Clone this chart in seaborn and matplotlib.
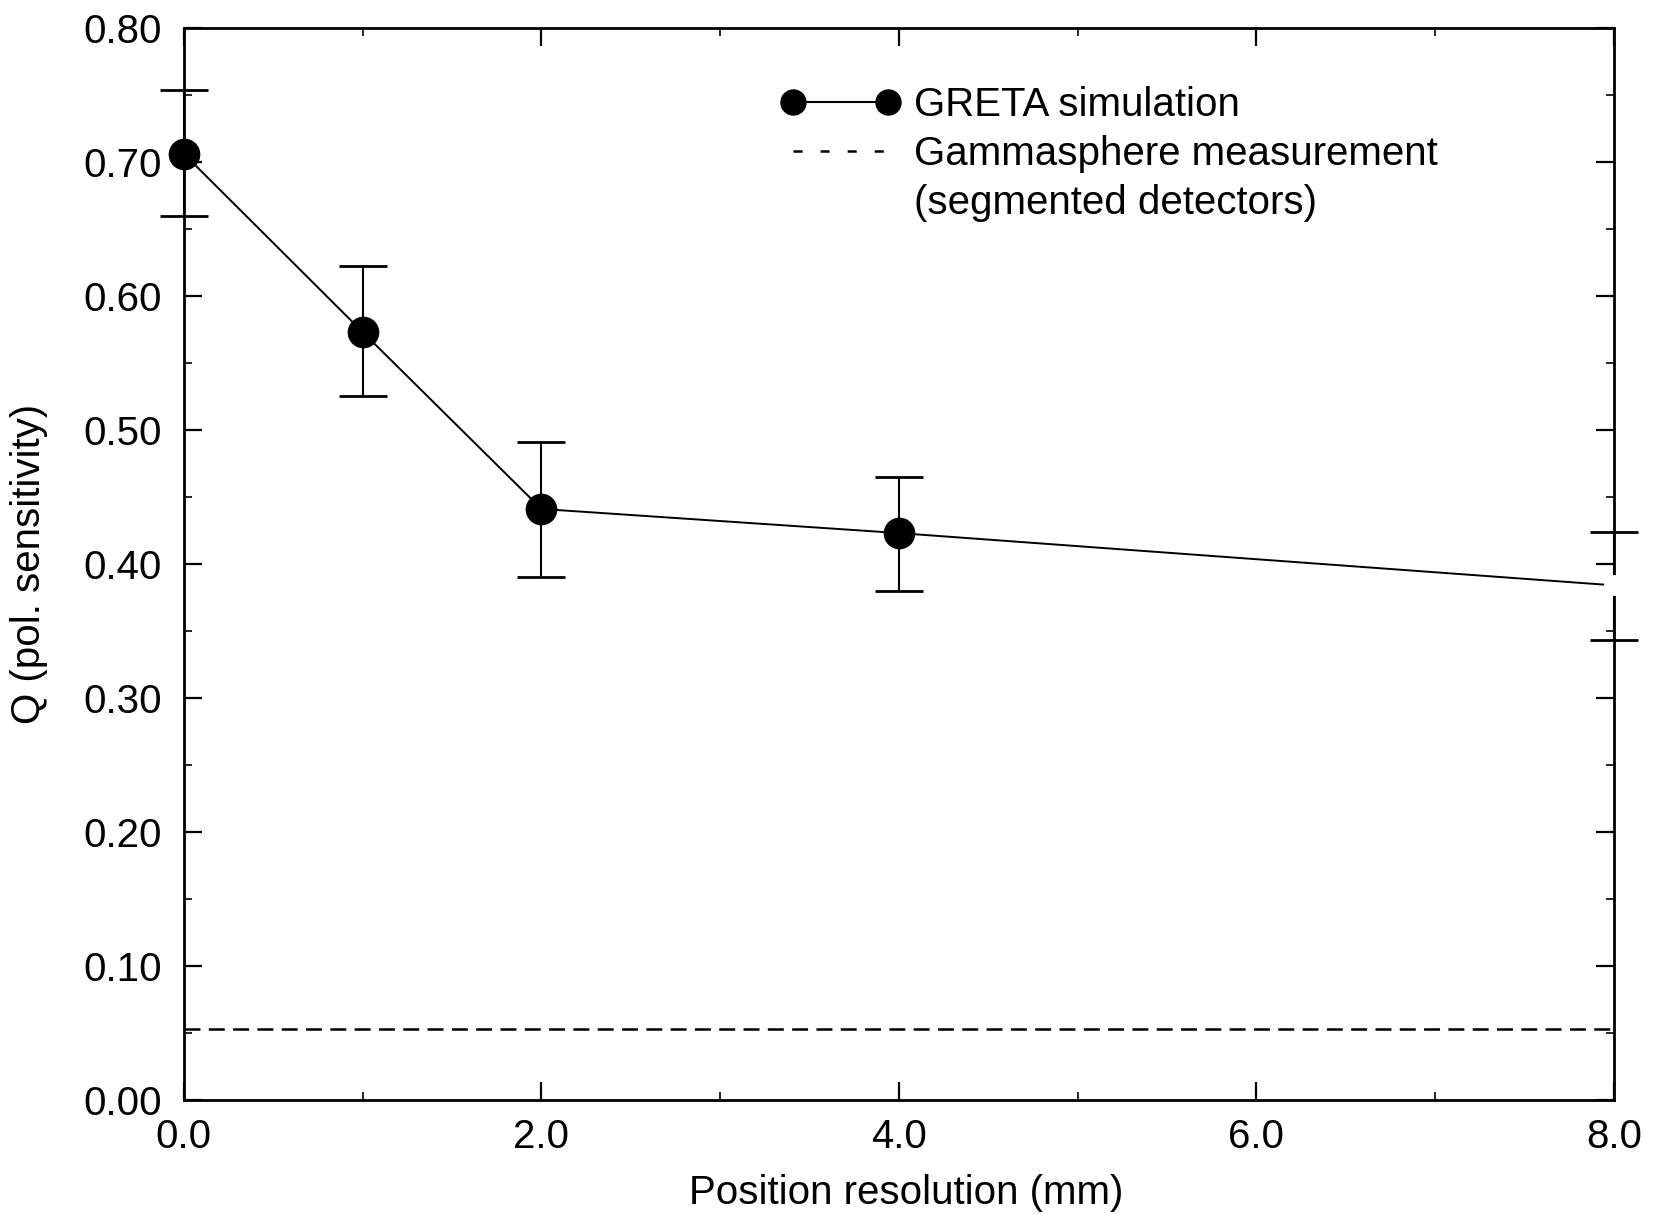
import matplotlib
matplotlib.use("Agg")
import matplotlib.pyplot as plt
import seaborn as sns
import numpy as np
import pandas as pd
from matplotlib.lines import Line2D
from matplotlib.ticker import MultipleLocator, FormatStrFormatter

# ---- data ----
position_mm = [0.0, 1.0, 2.0, 4.0, 8.0]
q_sim = [0.706, 0.573, 0.441, 0.423, 0.384]
q_err_low = [0.046, 0.048, 0.051, 0.043, 0.041]
q_err_high = [0.048, 0.049, 0.050, 0.042, 0.040]
gammasphere_q = 0.053
x_ticks = [0.0, 2.0, 4.0, 6.0, 8.0]
y_ticks = [0.0, 0.1, 0.2, 0.3, 0.4, 0.5, 0.6, 0.7, 0.8]

sns.set_theme(style="ticks")
plt.rcParams["font.family"] = ["Liberation Sans", "DejaVu Sans"]
plt.rcParams["lines.scale_dashes"] = False
plt.rcParams["text.color"] = "black"
plt.rcParams["axes.labelcolor"] = "black"

FS = 29

df = pd.DataFrame({"x": position_mm, "q": q_sim})

fig = plt.figure(figsize=(16.57, 12.14), dpi=100)
ax = fig.add_axes([0.111, 0.094, 0.863, 0.883])

# simulated line
sns.lineplot(data=df, x="x", y="q", ax=ax, color="black", linewidth=1.4,
             marker=None, zorder=3)
# markers for points inside the frame
sns.scatterplot(data=df.iloc[:4], x="x", y="q", ax=ax, color="black", s=520,
                edgecolor="black", linewidth=0, zorder=5, clip_on=False)
# error bars
ax.errorbar(position_mm, q_sim, yerr=[q_err_low, q_err_high], fmt="none",
            ecolor="black", elinewidth=1.5, capsize=17, capthick=2.0,
            clip_on=False, zorder=4)
# gap at the right end (point at x=8 is drawn blank)
ax.plot([position_mm[-1]], [q_sim[-1]], marker="o", markersize=15,
        color="white", markeredgewidth=0, clip_on=False, zorder=6,
        linestyle="none")

# Gammasphere measurement
ax.axhline(gammasphere_q, color="black", linewidth=1.8,
           linestyle=(0, (11.5, 6.0)), zorder=2)

ax.set_xlim(0, 8)
ax.set_ylim(0, 0.8)
ax.set_xticks(x_ticks)
ax.set_yticks(y_ticks)
ax.xaxis.set_minor_locator(MultipleLocator(1.0))
ax.yaxis.set_minor_locator(MultipleLocator(0.05))
ax.xaxis.set_major_formatter(FormatStrFormatter("%.1f"))
ax.yaxis.set_major_formatter(FormatStrFormatter("%.2f"))
ax.tick_params(which="major", direction="in", length=13, width=1.6,
               top=True, right=True, labelsize=FS, pad=16, colors="black")
ax.tick_params(which="minor", direction="in", length=6, width=1.4,
               top=True, right=True)
ax.tick_params(axis="x", which="major", pad=13)

for s in ax.spines.values():
    s.set_linewidth(2.0)
    s.set_color("black")
    s.set_visible(True)

ax.set_xlabel("Position resolution (mm)", fontsize=FS)
ax.set_ylabel("Q (pol. sensitivity)", fontsize=FS, labelpad=25)
ax.xaxis.set_label_coords(0.505, -0.069)

handles = [
    Line2D([], [], color="black", linewidth=1.5, marker="o", markersize=18),
    Line2D([], [], color="black", linewidth=1.8, linestyle=(0, (6.5, 13))),
    Line2D([], [], linestyle="none"),
]
labels = ["GRETA simulation", "Gammasphere measurement", "(segmented detectors)"]
leg = ax.legend(handles, labels, loc="upper left",
                bbox_to_anchor=(0.4175, 0.946), frameon=False, fontsize=FS,
                numpoints=2, handlelength=2.96, handletextpad=0.35,
                borderpad=0, borderaxespad=0, labelspacing=0.27)

fig.savefig("out.png", dpi=100, facecolor="white")
